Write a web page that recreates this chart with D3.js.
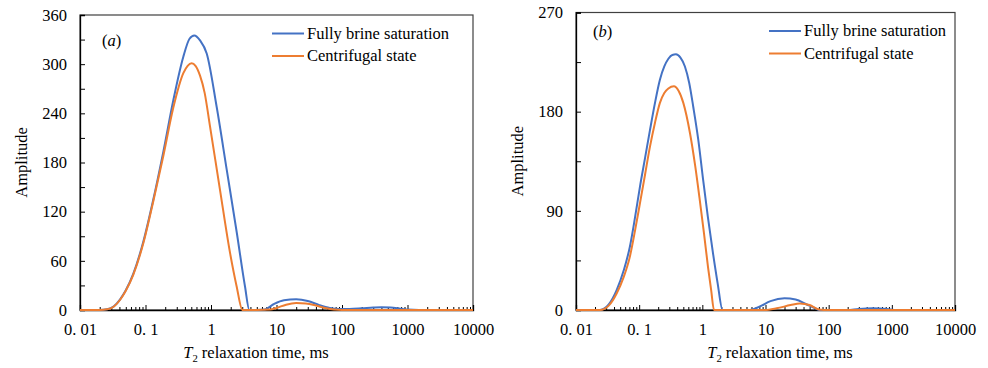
<!DOCTYPE html>
<html>
<head>
<meta charset="utf-8">
<script src="https://cdn.jsdelivr.net/npm/d3@7"></script>
<style>
  body { margin: 0; background: #fff; }
</style>
</head>
<body>
<svg id="chart" width="988" height="368"></svg>
<script>
// panel (a) - fully brine saturation
const t2A_brine = [0.01, 0.02, 0.026, 0.033, 0.041, 0.05, 0.065, 0.093, 0.13, 0.187, 0.266, 0.378, 0.47, 0.556, 0.68, 0.86, 1.22, 1.74, 2.48, 3.3, 3.85, 5, 6.6, 9, 13, 20, 30, 45, 65, 90, 130, 200, 300, 400, 550, 750, 1000, 1500, 10000]
const ampA_brine = [0, 0, 0.8, 4.5, 13, 24, 44, 84, 133, 193, 256, 309, 331, 335, 329, 313, 248, 171, 94, 29, 0, 0, 0.5, 7, 12, 13, 11, 6, 2.5, 1.2, 1.2, 2, 3, 3.4, 3, 1.8, 0.5, 0, 0]
// panel (a) - centrifugal state
const t2A_cent = [0.01, 0.02, 0.026, 0.033, 0.041, 0.05, 0.065, 0.093, 0.13, 0.187, 0.266, 0.378, 0.44, 0.507, 0.58, 0.68, 0.8, 0.966, 1.37, 1.95, 2.46, 3.02, 5, 8, 10, 14, 20, 28, 40, 55, 75, 100, 10000]
const ampA_cent = [0, 0, 0.8, 4.3, 12.5, 23.5, 43, 82, 131, 188, 247, 289, 298, 301, 298, 286, 265, 224, 147, 70, 29, 0, 0, 0.5, 2.5, 6.5, 8.5, 8, 5.5, 2.5, 0.5, 0, 0]

// panel (b) - fully brine saturation
const t2B_brine = [0.01, 0.024, 0.033, 0.044, 0.057, 0.071, 0.086, 0.103, 0.124, 0.148, 0.178, 0.213, 0.25, 0.29, 0.335, 0.382, 0.45, 0.53, 0.62, 0.72, 0.86, 1.03, 1.22, 1.48, 1.75, 2.09, 3, 5.6, 8, 12, 20, 30, 45, 60, 72, 100, 195, 300, 500, 830, 1200, 10000]
const ampB_brine = [0, 0, 5, 18, 36, 57, 84, 112, 138, 163, 188, 209, 221, 228, 231.5, 232, 229, 221, 206, 184, 155, 118, 85, 51, 24, 0, 0, 0, 3, 8, 10.6, 9.5, 5, 1.8, 0, 0, 0, 1, 1.5, 1, 0, 0]
// panel (b) - centrifugal state
const t2B_cent = [0.01, 0.024, 0.033, 0.044, 0.057, 0.071, 0.086, 0.103, 0.124, 0.148, 0.178, 0.213, 0.25, 0.29, 0.355, 0.42, 0.5, 0.64, 0.77, 0.91, 1.06, 1.23, 1.38, 1.53, 5, 9.8, 15, 25, 35, 50, 70, 100, 10000]
const ampB_cent = [0, 0, 4, 15, 30, 48, 72, 97, 123, 148, 170, 188, 197, 201, 203, 199, 188, 160, 131, 100, 70, 39, 18, 0, 0, 0, 1.5, 4.5, 6, 4.5, 0.5, 0, 0]

const seriesNames = ["Fully brine saturation", "Centrifugal state"]
const colors = ["#4472C4", "#ED7D31"]
const xTicks = [0.01, 0.1, 1, 10, 100, 1000, 10000]
const xTickLabels = ["0. 01", "0. 1", "1", "10", "100", "1000", "10000"]
const yTicksA = [0, 60, 120, 180, 240, 300, 360]
const yTicksB = [0, 90, 180, 270]

let fontSize = 16.5
let font = "'Liberation Serif', 'Times New Roman', serif"

const svg = d3.select("#chart")

let zip = (xs, ys) => xs.map((x, i) => ({ t: x, a: ys[i] }))

/*
    draws one panel: framed plot, log x axis with inward ticks,
    linear y axis, two curves, legend and panel letter
*/
const drawPanel = (p) => {
    const g = svg.append("g")
        .attr("font-family", font)

    const x = d3.scaleLog().domain([0.01, 10000]).range([p.left, p.right])
    const y = d3.scaleLinear().domain([0, p.yMax]).range([p.bottom, p.top])

    g.append("rect")
        .attr("x", p.left).attr("y", p.top)
        .attr("width", p.right - p.left).attr("height", p.bottom - p.top)
        .attr("fill", "none")
        .attr("stroke", "#404040")
        .attr("stroke-width", 1.2)

    // minor x ticks
    let minor = []
    for (let e = -2; e < 4; e++)
        for (let m = 2; m < 10; m++) minor.push(m * Math.pow(10, e))

    g.append("g")
        .attr("transform", "translate(0," + p.bottom + ")")
        .call(d3.axisBottom(x).tickValues(minor).tickSize(-3).tickFormat(""))
        .call(a => a.select(".domain").remove())

    g.append("g")
        .attr("transform", "translate(0," + p.bottom + ")")
        .call(d3.axisBottom(x).tickValues(xTicks).tickSize(-5).tickPadding(13)
            .tickFormat((d, i) => xTickLabels[i]))
        .attr("font-family", font)
        .call(a => a.select(".domain").attr("stroke", "#000").attr("stroke-width", 1.3))
        .selectAll("text")
        .attr("font-size", fontSize)
        .attr("fill", "#000")

    // y axis: majors labelled, half steps unlabelled
    const yStep = p.yTicks[1] - p.yTicks[0]
    const yMinor = p.yTicks.slice(0, -1).map(v => v + yStep / 2)

    g.append("g")
        .attr("transform", "translate(" + p.left + ",0)")
        .call(d3.axisLeft(y).tickValues(yMinor).tickSize(-5).tickFormat(""))
        .call(a => a.select(".domain").remove())

    g.append("g")
        .attr("transform", "translate(" + p.left + ",0)")
        .call(d3.axisLeft(y).tickValues(p.yTicks).tickSize(-5).tickPadding(13))
        .attr("font-family", font)
        .call(a => a.select(".domain").attr("stroke", "#000").attr("stroke-width", 1.3))
        .selectAll("text")
        .attr("font-size", fontSize)
        .attr("fill", "#000")

    const line = d3.line()
        .x(d => x(d.t))
        .y(d => y(d.a))
        .curve(d3.curveMonotoneX)

    p.series.forEach((s, i) => {
        g.append("path")
            .datum(s)
            .attr("d", line)
            .attr("fill", "none")
            .attr("stroke", colors[i])
            .attr("stroke-width", 2)
            .attr("stroke-linejoin", "round")
    })

    // legend
    seriesNames.forEach((name, i) => {
        let ly = p.legendY + i * 22.5
        g.append("line")
            .attr("x1", p.legendX).attr("x2", p.legendX + 32)
            .attr("y1", ly).attr("y2", ly)
            .attr("stroke", colors[i])
            .attr("stroke-width", 2)
        g.append("text")
            .attr("x", p.legendX + 35)
            .attr("y", ly)
            .attr("dy", "0.33em")
            .attr("font-size", fontSize)
            .text(name)
    })

    // panel letter
    const tag = g.append("text")
        .attr("x", p.tagX).attr("y", p.tagY)
        .attr("font-size", fontSize)
    tag.append("tspan").text("(")
    tag.append("tspan").attr("font-style", "italic").text(p.tag)
    tag.append("tspan").text(")")

    // axis titles
    const xt = g.append("text")
        .attr("x", p.xTitleX).attr("y", 358)
        .attr("text-anchor", "middle")
        .attr("font-size", fontSize)
    xt.append("tspan").attr("font-style", "italic").text("T")
    xt.append("tspan").attr("font-size", fontSize * 0.65).attr("dy", 4).text("2")
    xt.append("tspan").attr("dy", -4).text(" relaxation time, ms")

    g.append("text")
        .attr("transform", "translate(" + p.yTitleX + "," + (p.top + p.bottom) / 2 + ") rotate(-90)")
        .attr("text-anchor", "middle")
        .attr("font-size", fontSize)
        .text("Amplitude")
}

drawPanel({
    left: 80, right: 473, top: 15, bottom: 310,
    yMax: 360, yTicks: yTicksA,
    series: [zip(t2A_brine, ampA_brine), zip(t2A_cent, ampA_cent)],
    legendX: 272, legendY: 33.5,
    tag: "a", tagX: 102, tagY: 46,
    xTitleX: 256, yTitleX: 27
})

drawPanel({
    left: 576, right: 955, top: 12.5, bottom: 310,
    yMax: 270, yTicks: yTicksB,
    series: [zip(t2B_brine, ampB_brine), zip(t2B_cent, ampB_cent)],
    legendX: 769, legendY: 31,
    tag: "b", tagX: 593, tagY: 37,
    xTitleX: 780, yTitleX: 523
})
</script>
</body>
</html>
